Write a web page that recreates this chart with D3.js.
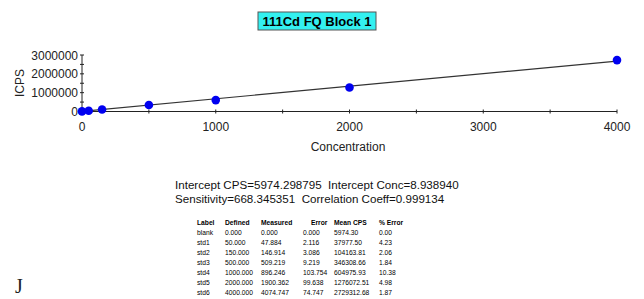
<!DOCTYPE html>
<html>
<head>
<meta charset="utf-8">
<script src="https://cdn.jsdelivr.net/npm/d3@7"></script>
<style>
  body { margin: 0; background: #fff; }
  svg text { font-family: "Liberation Sans", Arial, sans-serif; }
</style>
</head>
<body>
<svg id="chart" width="644" height="299"></svg>
<script>
// calibration data: labels, defined concentration, measured, error, mean CPS, % error
const labels = ["blank", "std1", "std2", "std3", "std4", "std5", "std6"];
const defined = [0, 50, 150, 500, 1000, 2000, 4000];
const measured = ["0.000", "47.884", "146.914", "509.219", "896.246", "1900.362", "4074.747"];
const errors = ["0.000", "2.116", "3.086", "9.219", "103.754", "99.638", "74.747"];
const meanCps = [5974.30, 37977.50, 104163.81, 346308.66, 604975.93, 1276072.51, 2729312.68];
const pctError = ["0.00", "4.23", "2.06", "1.84", "10.38", "4.98", "1.87"];

const intercept = 5974.298795;
const sensitivity = 668.345351;

const xTicks = [0, 1000, 2000, 3000, 4000];
const yTicks = [0, 1000000, 2000000, 3000000];

const svg = d3.select("#chart");

// title box
svg.append("rect")
  .attr("x", 258).attr("y", 12).attr("width", 118).attr("height", 18)
  .attr("fill", "#33f0f0").attr("stroke", "#555").attr("stroke-width", 1);
svg.append("text")
  .attr("x", 317).attr("y", 26)
  .attr("text-anchor", "middle")
  .attr("font-size", 13).attr("font-weight", "bold")
  .text("111Cd FQ Block 1");

const x = d3.scaleLinear().domain([0, 4000]).range([82, 617]);
const y = d3.scaleLinear().domain([0, 3000000]).range([111.5, 55]);

// minor ticks crossing the axes
const xMinor = d3.range(0, 4001, 500);
const yMinor = d3.range(0, 3000001, 500000);

const axes = svg.append("g").attr("stroke", "#222").attr("stroke-width", 1);
axes.append("line").attr("x1", x(0)).attr("x2", x(4000)).attr("y1", y(0)).attr("y2", y(0));
axes.append("line").attr("x1", x(0)).attr("x2", x(0)).attr("y1", y(0)).attr("y2", y(3000000));
axes.selectAll("line.xt").data(xMinor).enter().append("line")
  .attr("class", "xt")
  .attr("x1", (d) => x(d)).attr("x2", (d) => x(d))
  .attr("y1", y(0) - 2).attr("y2", y(0) + 2);
axes.selectAll("line.yt").data(yMinor).enter().append("line")
  .attr("class", "yt")
  .attr("y1", (d) => y(d)).attr("y2", (d) => y(d))
  .attr("x1", x(0) - 2).attr("x2", x(0) + 2);

svg.selectAll("text.xl").data(xTicks).enter().append("text")
  .attr("class", "xl")
  .attr("x", (d) => x(d)).attr("y", 131)
  .attr("text-anchor", "middle").attr("font-size", 12).attr("fill", "#222")
  .text((d) => d);

svg.selectAll("text.yl").data(yTicks).enter().append("text")
  .attr("class", "yl")
  .attr("x", 78).attr("y", (d) => y(d) + 4.5)
  .attr("text-anchor", "end").attr("font-size", 12).attr("fill", "#222")
  .text((d) => d);

svg.append("text")
  .attr("x", 348).attr("y", 151)
  .attr("text-anchor", "middle").attr("font-size", 12).attr("fill", "#222")
  .text("Concentration");

svg.append("text")
  .attr("transform", "translate(24,83) rotate(-90)")
  .attr("text-anchor", "middle").attr("font-size", 12).attr("fill", "#222")
  .text("ICPS");

// regression line
svg.append("line")
  .attr("x1", x(0)).attr("y1", y(intercept))
  .attr("x2", x(4000)).attr("y2", y(intercept + sensitivity * 4000))
  .attr("stroke", "#333").attr("stroke-width", 1.2);

// calibration points
svg.selectAll("circle.pt").data(defined).enter().append("circle")
  .attr("class", "pt")
  .attr("cx", (d) => x(d)).attr("cy", (d, i) => y(meanCps[i]))
  .attr("r", 4.3).attr("fill", "#0000f0");

// statistics
const stats = svg.append("g").attr("font-size", 11.6).attr("fill", "#111");
stats.append("text").attr("x", 175).attr("y", 189)
  .text("Intercept CPS=5974.298795\u00a0 Intercept Conc=8.938940");
stats.append("text").attr("x", 175).attr("y", 203)
  .text("Sensitivity=668.345351\u00a0 Correlation Coeff=0.999134");

// table
const cols = [
  { title: "Label", x: 197, vals: labels },
  { title: "Defined", x: 225, vals: defined.map((d) => d.toFixed(3)) },
  { title: "Measured", x: 261, vals: measured },
  { title: "Error", x: 303, vals: errors, hx: 311 },
  { title: "Mean CPS", x: 334, vals: meanCps.map((d) => d.toFixed(2)) },
  { title: "% Error", x: 379, vals: pctError }
];
const table = svg.append("g")
  .style("font-family", "'DejaVu Sans Condensed', 'DejaVu Sans', sans-serif")
  .attr("font-size", 6.7).attr("fill", "#000");
cols.forEach((c) => {
  table.append("text").attr("x", c.hx || c.x).attr("y", 224.5)
    .attr("font-weight", "bold").text(c.title);
  table.selectAll(null).data(c.vals).enter().append("text")
    .attr("x", c.x).attr("y", (d, i) => 234.5 + i * 10.1)
    .text((d) => d);
});

svg.append("text")
  .attr("x", 15).attr("y", 293)
  .style("font-family", "'Liberation Serif', serif")
  .attr("font-size", 20).attr("fill", "#222")
  .text("J");
</script>
</body>
</html>
